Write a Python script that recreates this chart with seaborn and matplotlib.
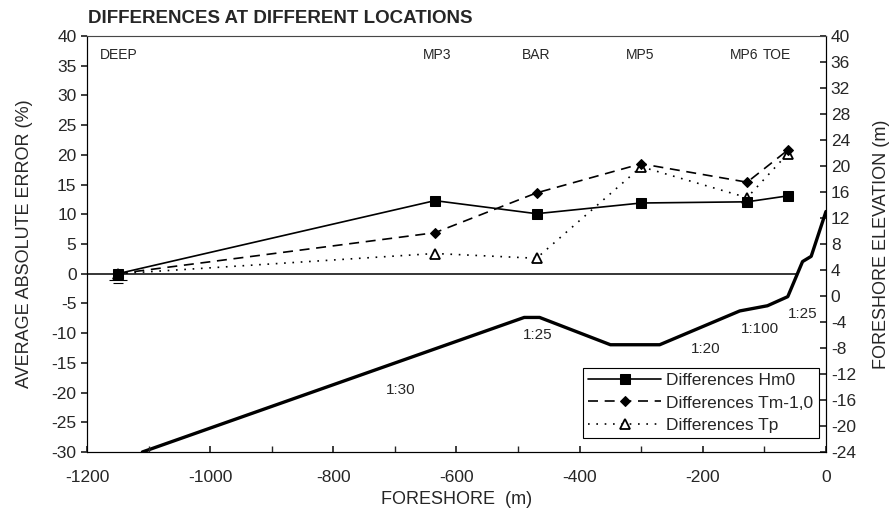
import numpy as np
import pandas as pd
import matplotlib
matplotlib.use("Agg")
import matplotlib.pyplot as plt
import seaborn as sns

# measuring locations along the foreshore (m) and average absolute error (%)
locations = ["DEEP", "MP3", "BAR", "MP5", "MP6", "TOE"]
loc_x = [-1150, -635, -470, -300, -128, -62]
label_x = [-1148, -632, -471, -301, -133, -80]
err_hm0 = [0.0, 12.3, 10.1, 11.9, 12.1, 13.1]
err_tm = [0.0, 6.9, 13.6, 18.5, 15.4, 20.8]
err_tp = [0.0, 3.4, 2.6, 18.0, 12.8, 20.2]

# foreshore profile (m)
bed_x = [-1110, -490, -465, -350, -270, -140, -95, -62, -38, -24, 0]
bed_z = [-24.0, -3.3, -3.3, -7.5, -7.5, -2.3, -1.5, -0.1, 5.3, 6.1, 13.0]

# slope annotations (positions in % axis units)
slope_text = ["1:30", "1:25", "1:20", "1:100", "1:25"]
slope_x = [-690, -468, -195, -108, -38]
slope_y = [-19.5, -10.3, -12.7, -9.3, -6.8]

sns.set_theme(style="ticks")
plt.rcParams["font.family"] = ["Liberation Sans", "DejaVu Sans"]
plt.rcParams["axes.linewidth"] = 0.8
plt.rcParams["axes.unicode_minus"] = False

fig = plt.figure(figsize=(8.91, 5.11), dpi=100)
ax = fig.add_axes([0.0976, 0.1155, 0.8294, 0.814])
ax2 = ax.twinx()

# still water line
ax.plot([-1200, -48], [0, 0], color="black", lw=1.1, zorder=1)
ax.hlines([-1.0, -1.5], [-1165, -1158], [-1135, -1142], color="black", lw=0.8)

# error series
sns.lineplot(x=loc_x, y=err_hm0, ax=ax, color="black", lw=1.2, marker="s",
             markersize=7, markeredgecolor="black", sort=False,
             label="Differences Hm0", zorder=6)
sns.lineplot(x=loc_x, y=err_tm, ax=ax, color="black", lw=1.2, marker="D",
             markersize=5.5, markeredgecolor="black", sort=False,
             linestyle=(0, (6, 4)), label="Differences Tm-1,0", zorder=5)
sns.lineplot(x=loc_x, y=err_tp, ax=ax, color="black", lw=1.2, marker="^",
             markersize=7, markerfacecolor="white", markeredgecolor="black",
             markeredgewidth=1.3, sort=False, linestyle=(0, (1, 4)),
             label="Differences Tp", zorder=4)

# foreshore profile on the right axis
sns.lineplot(x=bed_x, y=bed_z, ax=ax2, color="black", lw=2.4, sort=False)

ax.set_xlim(-1200, 0)
ax.set_ylim(-30, 40)
ax.set_yticks(np.arange(-30, 41, 5))
ax.set_xticks(np.arange(-1200, 1, 200))
ax.set_xticks(np.arange(-1200, 1, 100), minor=True)
ax2.set_ylim(-24, 40)
ax2.set_yticks(np.arange(-24, 41, 4))

ax.tick_params(axis="y", direction="out", length=4, labelsize=12.5)
ax.tick_params(axis="x", which="both", direction="in", length=4, labelsize=12.5, pad=13)
ax2.tick_params(axis="y", direction="in", length=4, labelsize=12.5)
for a in (ax, ax2):
    for s in a.spines.values():
        s.set_visible(True)
        s.set_color("black")
ax.spines["top"].set_linewidth(0.6)
ax.spines["top"].set_color("#555555")

ax.set_xlabel("FORESHORE  (m)", fontsize=13, labelpad=4)
ax.set_ylabel("AVERAGE ABSOLUTE ERROR (%)", fontsize=13, labelpad=13)
ax2.set_ylabel("FORESHORE ELEVATION (m)", fontsize=13, labelpad=12)

for name, xx in zip(locations, label_x):
    ax.text(xx, 36.8, name, ha="center", va="center", fontsize=10)
for t, xx, yy in zip(slope_text, slope_x, slope_y):
    ax.text(xx, yy, t, ha="center", va="center", fontsize=11)

fig.text(0.0988, 0.963, "DIFFERENCES AT DIFFERENT LOCATIONS", ha="left",
         va="center", fontsize=13.5, fontweight="bold")

leg = ax.legend(loc="lower right", bbox_to_anchor=(0.99, 0.034),
                borderaxespad=0, fancybox=False, edgecolor="black",
                fontsize=12.5, handlelength=4.2, handletextpad=0.3,
                labelspacing=0.4, borderpad=0.3, framealpha=1)
leg.get_frame().set_linewidth(0.8)
ax.set_zorder(ax2.get_zorder() + 1)
ax.patch.set_visible(False)

fig.savefig("out.png", dpi=100)
